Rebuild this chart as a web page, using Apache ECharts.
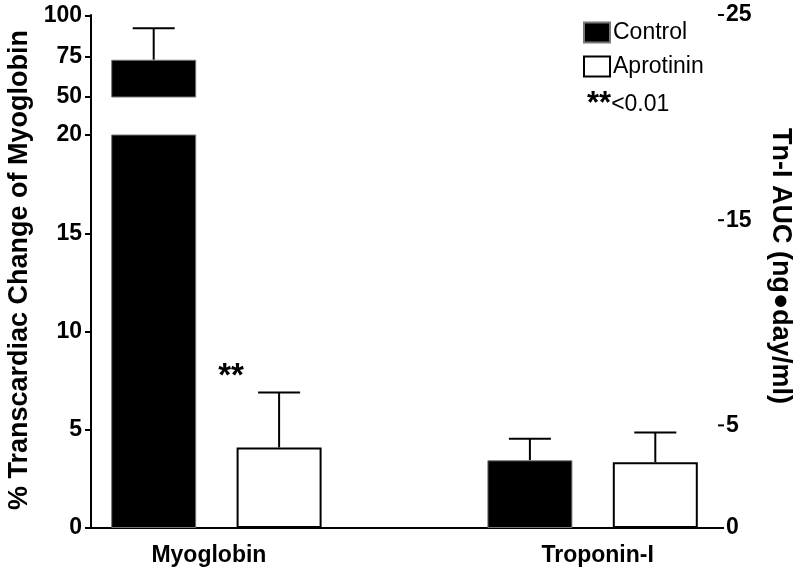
<!DOCTYPE html>
<html>
<head>
<meta charset="utf-8">
<script src="https://cdn.jsdelivr.net/npm/echarts@6/dist/echarts.min.js"></script>
<style>
  html, body { margin: 0; padding: 0; background: #fff; }
  #chart { width: 800px; height: 572px; }
</style>
</head>
<body>
<div id="chart"></div>
<script>
// data
const categories = ['Myoglobin', 'Troponin-I']
const controlMean = [73, 3.3]
const controlUpper = [92.5, 4.35]   // top of error bar
const aprotininMean = [4.1, 3.2]
const aprotininUpper = [6.9, 4.65]
const leftLowTicks = [0, 5, 10, 15, 20]
const leftHighTicks = [50, 75, 100]
const rightTicks = [0, 5, 15, 25]

// layout: 5 slots along x, bars on slots 0,1 and 3,4
const groupPos = [1, 4]
const labelPos = [0.94, 4.04]
const FONT = 'Liberation Sans, Arial, sans-serif'

const axisLine = { show: true, lineStyle: { color: '#000', width: 2 } }
const axisTick = { show: true, length: 6, lineStyle: { color: '#000', width: 2 } }
const tickLabel = { color: '#000', fontSize: 23, fontWeight: 'bold', fontFamily: FONT }

// error bar: upper whisker with cap
function errRender(params, api) {
  const x = api.value(0)
  const p0 = api.coord([x, api.value(1)])
  const p1 = api.coord([x, api.value(2)])
  const half = 21
  return {
    type: 'group',
    children: [
      { type: 'line', shape: { x1: p0[0], y1: p0[1], x2: p1[0], y2: p1[1] }, style: { stroke: '#000', lineWidth: 2 } },
      { type: 'line', shape: { x1: p1[0] - half, y1: p1[1], x2: p1[0] + half, y2: p1[1] }, style: { stroke: '#000', lineWidth: 2 } }
    ]
  }
}

// right axis only has ticks at 0, 5, 15, 25
function rightTickRender(params, api) {
  const p = api.coord([5, api.value(0)])
  return { type: 'line', shape: { x1: p[0], y1: p[1], x2: p[0] + 6, y2: p[1] }, style: { stroke: '#000', lineWidth: 2 } }
}

const controlStyle = { color: '#000', borderColor: '#777', borderWidth: 1 }
const aprotininStyle = { color: '#fff', borderColor: '#000', borderWidth: 2 }

const option = {
  animation: false,
  backgroundColor: '#fff',
  textStyle: { fontFamily: FONT },
  grid: [
    { left: 91, right: 82, top: 135, bottom: 44 },   // lower part 0-20
    { left: 91, right: 82, top: 16, height: 81 },    // upper part 50-100
    { left: 91, right: 82, top: 15, bottom: 44 }     // troponin, right axis
  ],
  xAxis: [
    {
      gridIndex: 0, type: 'value', min: 0, max: 5,
      axisLine: axisLine, axisTick: { show: false }, splitLine: { show: false },
      axisLabel: {
        customValues: labelPos, margin: 16, ...tickLabel,
        formatter: (v) => categories[labelPos.indexOf(v)]
      }
    },
    { gridIndex: 1, type: 'value', min: 0, max: 5, show: false },
    { gridIndex: 2, type: 'value', min: 0, max: 5, show: false }
  ],
  yAxis: [
    {
      gridIndex: 0, type: 'value', min: 0, max: 20, interval: 5,
      axisLine: axisLine, axisTick: axisTick, splitLine: { show: false },
      axisLabel: { customValues: leftLowTicks, margin: 9, ...tickLabel }
    },
    {
      gridIndex: 1, type: 'value', min: 50, max: 100, interval: 25,
      axisLine: axisLine, axisTick: axisTick, splitLine: { show: false },
      axisLabel: { customValues: leftHighTicks, margin: 9, ...tickLabel }
    },
    {
      gridIndex: 2, type: 'value', position: 'right', min: 0, max: 25, interval: 5,
      axisLine: axisLine, splitLine: { show: false }, axisTick: { show: false },
      axisLabel: { customValues: rightTicks, margin: 8, ...tickLabel }
    }
  ],
  legend: {
    data: ['Control', 'Aprotinin'],
    orient: 'vertical', left: 583, top: 21, padding: 0,
    icon: 'rect', itemWidth: 26, itemHeight: 20, itemGap: 11,
    textStyle: { color: '#000', fontSize: 23, fontFamily: FONT, padding: [0, 0, 0, -2] }
  },
  graphic: [
    {
      type: 'text', x: 20, y: 270, rotation: Math.PI / 2,
      style: {
        text: '% Transcardiac Change of Myoglobin', fill: '#000', fontSize: 27, fontWeight: 'bold',
        fontFamily: FONT, align: 'center', verticalAlign: 'middle'
      }
    },
    {
      type: 'text', x: 780, y: 266, rotation: -Math.PI / 2,
      style: {
        text: 'Tn-I AUC (ng\u25CFday/ml)', fill: '#000', fontSize: 27, fontWeight: 'bold',
        fontFamily: FONT, align: 'center', verticalAlign: 'middle'
      }
    },
    {
      type: 'text', left: 587, top: 89,
      style: {
        text: '{a|**}{b|<0.01}',
        rich: {
          a: { fontSize: 31, fontWeight: 'bold', fill: '#000', fontFamily: FONT },
          b: { fontSize: 23, fill: '#000', fontFamily: FONT }
        }
      }
    },
    {
      type: 'text', x: 231, y: 377,
      style: { text: '**', fill: '#000', fontSize: 33, fontWeight: 'bold', fontFamily: FONT, align: 'center', verticalAlign: 'middle' }
    }
  ],
  series: [
    // myoglobin, lower part
    {
      name: 'Control', type: 'bar', xAxisIndex: 0, yAxisIndex: 0, barWidth: 85, barGap: '-100%',
      itemStyle: controlStyle, data: [[groupPos[0] - 0.5, controlMean[0]]]
    },
    {
      name: 'Aprotinin', type: 'bar', xAxisIndex: 0, yAxisIndex: 0, barWidth: 85, barGap: '-100%',
      itemStyle: aprotininStyle, data: [[groupPos[0] + 0.5, aprotininMean[0]]]
    },
    {
      type: 'custom', xAxisIndex: 0, yAxisIndex: 0, renderItem: errRender,
      data: [[groupPos[0] + 0.5, aprotininMean[0], aprotininUpper[0]]]
    },
    // myoglobin, upper part
    {
      name: 'Control', type: 'bar', xAxisIndex: 1, yAxisIndex: 1, barWidth: 85, barGap: '-100%',
      itemStyle: controlStyle, data: [[groupPos[0] - 0.5, controlMean[0]]]
    },
    {
      type: 'custom', xAxisIndex: 1, yAxisIndex: 1, renderItem: errRender,
      data: [[groupPos[0] - 0.5, controlMean[0], controlUpper[0]]]
    },
    // troponin on right axis
    {
      name: 'Control', type: 'bar', xAxisIndex: 2, yAxisIndex: 2, barWidth: 85, barGap: '-100%',
      itemStyle: controlStyle, data: [[groupPos[1] - 0.5, controlMean[1]]]
    },
    {
      name: 'Aprotinin', type: 'bar', xAxisIndex: 2, yAxisIndex: 2, barWidth: 85, barGap: '-100%',
      itemStyle: aprotininStyle, data: [[groupPos[1] + 0.5, aprotininMean[1]]]
    },
    {
      type: 'custom', xAxisIndex: 2, yAxisIndex: 2, renderItem: errRender,
      data: [
        [groupPos[1] - 0.5, controlMean[1], controlUpper[1]],
        [groupPos[1] + 0.5, aprotininMean[1], aprotininUpper[1]]
      ]
    },
    {
      type: 'custom', xAxisIndex: 2, yAxisIndex: 2, renderItem: rightTickRender, clip: false,
      silent: true, data: rightTicks.map((v) => [v])
    }
  ]
}

const myChart = echarts.init(document.getElementById('chart'))
myChart.setOption(option)
</script>
</body>
</html>
